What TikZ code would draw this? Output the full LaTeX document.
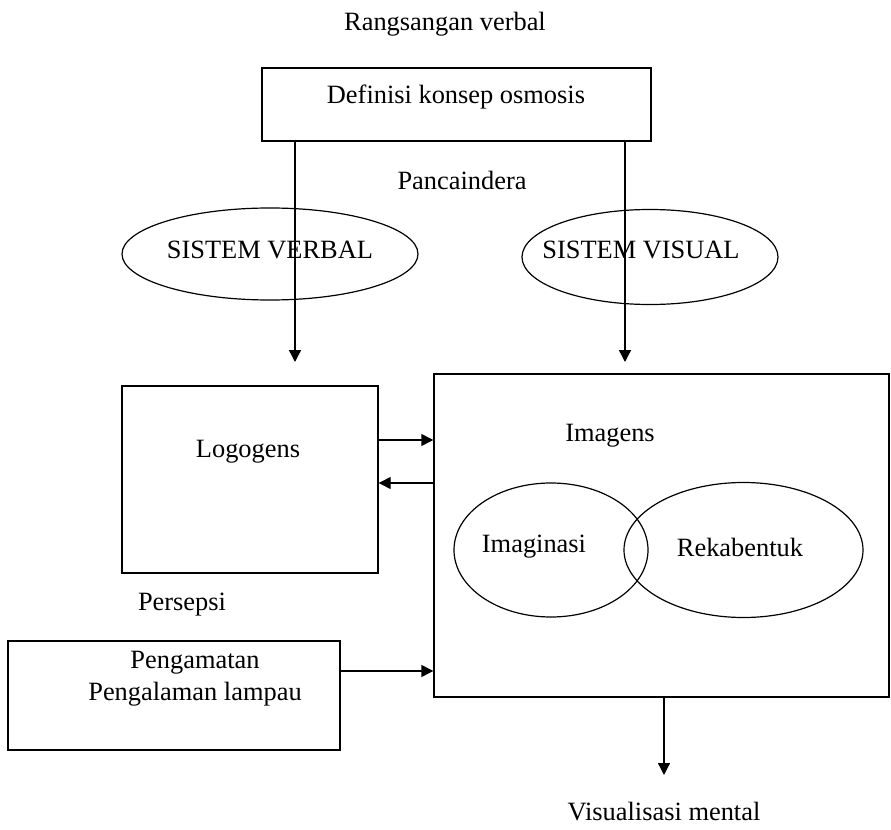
\documentclass[tikz,border=0pt]{standalone}
\usepackage{fontspec}
\setmainfont{Liberation Serif}
\usetikzlibrary{shapes.geometric,arrows.meta}

\begin{document}
\begin{tikzpicture}[x=0.5pt, y=-0.5pt,
    box/.style={rectangle, draw, line width=0.7pt, inner sep=0pt},
    oval/.style={ellipse, draw, line width=0.6pt, inner sep=0pt},
    lbl/.style={font=\fontsize{13.2}{16}\selectfont, align=center},
    arrow/.style={-{Triangle[length=6pt,width=6pt]}, line width=0.7pt}
]
\useasboundingbox (0,0) rectangle (891,830);

% Boxes
\node[box, minimum width=194.5pt, minimum height=36.5pt] (defbox) at (456.5,104.5) {};
\node[box, minimum width=128pt, minimum height=93.5pt] (logo) at (250,479.5) {};
\node[box, minimum width=227.5pt, minimum height=161.5pt] (imag) at (661.5,535.5) {};
\node[box, minimum width=166pt, minimum height=54.5pt] (amat) at (174,695.5) {};

% Ellipses
\node[oval, minimum width=148pt, minimum height=46pt] (verbal) at (270,254) {};
\node[oval, minimum width=128pt, minimum height=47.5pt] (visual) at (650,257) {};
\node[oval, minimum width=97pt, minimum height=67pt] (imaji) at (551,550) {};
\node[oval, minimum width=119.5pt, minimum height=67.5pt] (reka) at (743.5,550) {};

% Labels
\node[lbl] (rangs) at (445,24) {Rangsangan verbal};
\node[lbl] (deftx) at (456,97) {Definisi konsep osmosis};
\node[lbl] (panca) at (462,180) {Pancaindera};
\node[lbl] (verbtx) at (270,250) {SISTEM VERBAL};
\node[lbl] (vistx) at (641,250) {SISTEM VISUAL};
\node[lbl] (logotx) at (248,452) {Logogens};
\node[lbl] (imagtx) at (610,436) {Imagens};
\node[lbl] (imajitx) at (534,547) {Imaginasi};
\node[lbl] (rekatx) at (740,547) {Rekabentuk};
\node[lbl] (persp) at (182,605) {Persepsi};
\node[lbl] (amattx) at (195,679) {Pengamatan\\Pengalaman lampau};
\node[lbl] (vismen) at (664,812) {Visualisasi mental};

% Arrows
\coordinate (tipL) at (295,362);
\coordinate (tipR) at (625,362);
\coordinate (tipV) at (664,775);
\coordinate (rowA) at (0,440);
\coordinate (rowB) at (0,483);
\coordinate (rowC) at (0,671);
\draw[arrow] (defbox.south -| tipL) -- (tipL);
\draw[arrow] (defbox.south -| tipR) -- (tipR);
\draw[arrow] (logo.east |- rowA) -- (imag.west |- rowA);
\draw[arrow] (imag.west |- rowB) -- (logo.east |- rowB);
\draw[arrow] (amat.east |- rowC) -- (imag.west |- rowC);
\draw[arrow] (imag.south -| tipV) -- (tipV);
\end{tikzpicture}
\end{document}
